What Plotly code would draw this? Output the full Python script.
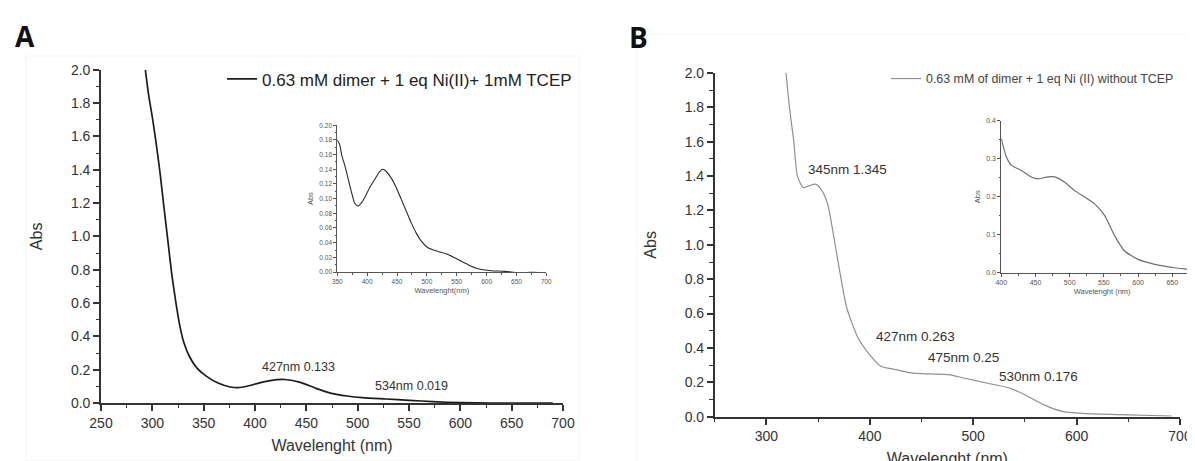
import plotly.graph_objects as go

W, H = 1195, 461

# ---------------- Panel A data (main spectrum) ----------------
a_wl = [293.2, 296.3, 300.1, 303.9, 307.7, 311.4, 315.2, 319.0, 322.8, 326.6, 330.4,
        336.1, 343.7, 353.2, 364.5, 375.9, 383.5, 393.0, 406.3, 421.4, 429.0, 444.2,
        459.4, 474.5, 489.7, 504.9, 527.6, 550.4, 573.2, 599.7, 630.0, 660.0, 690.0]
a_abs = [2.0, 1.852, 1.711, 1.551, 1.371, 1.170, 0.970, 0.770, 0.609, 0.469, 0.369,
         0.279, 0.208, 0.158, 0.118, 0.096, 0.092, 0.102, 0.124, 0.140, 0.141, 0.124,
         0.088, 0.058, 0.042, 0.032, 0.024, 0.016, 0.008, 0.002, 0.0, 0.0, 0.0]

# Panel A inset
ai_wl = [350.0, 353.9, 357.8, 362.3, 367.9, 373.4, 379.0, 384.6, 390.2, 396.9, 404.1,
         412.5, 420.9, 426.5, 432.0, 440.4, 448.8, 457.2, 465.5, 473.9, 482.3, 490.7,
         501.8, 518.6, 535.3, 552.1, 568.8, 585.6, 607.9, 630.2, 652.5, 674.9, 697.2]
ai_abs = [0.180, 0.174, 0.158, 0.146, 0.128, 0.110, 0.094, 0.090, 0.094, 0.103, 0.115,
          0.126, 0.137, 0.140, 0.137, 0.128, 0.115, 0.099, 0.083, 0.067, 0.053, 0.042,
          0.033, 0.028, 0.024, 0.017, 0.010, 0.0045, 0.0018, 0.0009, -0.001, -0.0005, -0.001]

# ---------------- Panel B data (main spectrum) ----------------
b_wl = [319.0, 322.3, 326.4, 330.0, 335.5, 341.0, 347.6, 353.8, 359.3, 364.8, 370.3,
        377.7, 388.6, 399.6, 410.6, 425.0, 440.0, 458.0, 476.6, 491.0, 513.0, 535.0,
        550.0, 568.0, 586.0, 605.0, 641.0, 692.0]
b_abs = [2.0, 1.80, 1.605, 1.40, 1.333, 1.343, 1.353, 1.314, 1.236, 1.061, 0.867,
         0.634, 0.459, 0.362, 0.293, 0.274, 0.255, 0.249, 0.245, 0.225, 0.196, 0.167,
         0.128, 0.070, 0.031, 0.019, 0.012, 0.004]

# Panel B inset
bi_wl = [400.0, 407.3, 414.6, 429.2, 443.9, 453.7, 468.3, 478.1, 492.7, 507.3, 521.9,
         536.5, 551.2, 565.8, 580.4, 599.9, 624.3, 653.5, 682.7, 693.9]
bi_abs = [0.353, 0.305, 0.283, 0.269, 0.252, 0.247, 0.252, 0.252, 0.238, 0.216, 0.199,
          0.181, 0.150, 0.097, 0.057, 0.035, 0.022, 0.013, 0.007, 0.003]

legend_a = "0.63 mM dimer + 1 eq Ni(II)+ 1mM TCEP"
legend_b = "0.63 mM of dimer + 1 eq Ni (II) without TCEP"

# peak labels: (text, x in nm, y in Abs) positions of label centres
labels_a = [("427nm 0.133", 442.4, 0.214), ("534nm 0.019", 552.3, 0.102)]
labels_b = [("345nm 1.345", 378.8, 1.440), ("427nm 0.263", 443.9, 0.468),
            ("475nm 0.25", 490.7, 0.346), ("530nm 0.176", 562.8, 0.235)]

FONT = "Arial, Liberation Sans, sans-serif"


def px(x0, x1):
    return [x0 / W, x1 / W]


def py(top, bottom):
    return [1 - bottom / H, 1 - top / H]


fig = go.Figure()

fig.add_trace(go.Scatter(x=a_wl, y=a_abs, mode="lines", name=legend_a,
                         line=dict(color="#1c1c1c", width=1.7, shape="spline", smoothing=0.6),
                         xaxis="x", yaxis="y", legend="legend"))
fig.add_trace(go.Scatter(x=ai_wl, y=ai_abs, mode="lines", showlegend=False,
                         line=dict(color="#2a2a2a", width=1.1, shape="spline", smoothing=0.6),
                         xaxis="x2", yaxis="y2"))
fig.add_trace(go.Scatter(x=b_wl, y=b_abs, mode="lines", name=legend_b,
                         line=dict(color="#909090", width=1.2, shape="spline", smoothing=0.6),
                         xaxis="x3", yaxis="y3", legend="legend2"))
fig.add_trace(go.Scatter(x=bi_wl, y=bi_abs, mode="lines", showlegend=False,
                         line=dict(color="#6e6e6e", width=1.2, shape="spline", smoothing=0.6),
                         xaxis="x4", yaxis="y4"))

axcol = "#333333"


def main_axis(domain, rng, dtick, minor_dtick, fmt, title, standoff, anchor, tick0=None, size=14):
    d = dict(domain=domain, range=rng, anchor=anchor, showline=True, linecolor=axcol,
             linewidth=1.6, ticks="outside", ticklen=6, tickwidth=1.5, tickcolor=axcol,
             dtick=dtick, showgrid=False, zeroline=False, tickformat=fmt,
             tickfont=dict(size=size, color="#333", family=FONT),
             minor=dict(dtick=minor_dtick, ticks="outside", ticklen=3.5, tickwidth=1.3,
                        tickcolor=axcol, showgrid=False),
             title=dict(text=title, font=dict(size=16, color="#333", family=FONT),
                        standoff=standoff),
             automargin=False, fixedrange=True)
    if tick0 is not None:
        d["tick0"] = tick0
    return d


def inset_axis(domain, rng, dtick, minor_dtick, fmt, title, standoff, anchor, size=6.5):
    return dict(domain=domain, range=rng, anchor=anchor, showline=True, linecolor="#555",
                linewidth=1, ticks="outside", ticklen=3, tickwidth=0.8, tickcolor="#555",
                dtick=dtick, showgrid=False, zeroline=False, tickformat=fmt,
                tickfont=dict(size=size, color="#555", family=FONT),
                minor=dict(dtick=minor_dtick, ticks="outside", ticklen=1.8, tickwidth=0.7,
                           tickcolor="#555", showgrid=False),
                title=dict(text=title, font=dict(size=7.5, color="#555", family=FONT),
                           standoff=standoff),
                automargin=False, fixedrange=True)


fig.update_layout(
    width=W, height=H, margin=dict(l=0, r=0, t=0, b=0),
    paper_bgcolor="white", plot_bgcolor="rgba(0,0,0,0)",
    font=dict(family=FONT, color="#333"),
    xaxis=main_axis(px(93, 555), [250, 700], 50, 25, "d", "Wavelenght (nm)", 10, "y"),
    yaxis=main_axis(py(61.7, 395), [0, 2.0], 0.2, 0.1, ".1f", "Abs", 24, "x"),
    xaxis2=inset_axis(px(329.3, 538.3), [350, 700], 50, 25, "d", "Wavelenght(nm)", 3, "y2"),
    yaxis2=inset_axis(py(117.3, 264), [0, 0.2], 0.02, 0.01, ".2f", "Abs", 4, "x2"),
    xaxis3=main_axis(px(706.7, 1172), [250, 700], 100, 50, "d", "Wavelenght (nm)", 10, "y3",
                     tick0=300),
    yaxis3=main_axis(py(65, 408.7), [0, 2.0], 0.2, 0.1, ".1f", "Abs", 24, "x3"),
    xaxis4=inset_axis(px(993.3, 1195), [400, 694.9], 50, 25, "d", "Wavelenght (nm)", 3, "y4",
                      size=7),
    yaxis4=inset_axis(py(112.7, 264.7), [0, 0.4], 0.1, 0.05, ".1f", "Abs", 4, "x4", size=7),
    legend=dict(x=214 / W, y=1 - 71.4 / H, xanchor="left", yanchor="middle",
                bgcolor="rgba(0,0,0,0)", borderwidth=0,
                font=dict(size=17, color="#222", family=FONT)),
    legend2=dict(x=878 / W, y=1 - 71 / H, xanchor="left", yanchor="middle",
                 bgcolor="rgba(0,0,0,0)", borderwidth=0,
                 font=dict(size=12.4, color="#444", family=FONT)),
    showlegend=True,
)

ann = []
for t, x, y in labels_a:
    ann.append(dict(text=t, x=x, y=y, xref="x", yref="y", showarrow=False,
                    xanchor="center", yanchor="middle",
                    font=dict(size=12.5, color="#333", family=FONT)))
for t, x, y in labels_b:
    ann.append(dict(text=t, x=x, y=y, xref="x3", yref="y3", showarrow=False,
                    xanchor="center", yanchor="middle",
                    font=dict(size=13.5, color="#333", family=FONT)))
ann.append(dict(text="<b>A</b>", x=17 / W, y=1 - 28 / H, xref="paper", yref="paper",
                showarrow=False, xanchor="center", yanchor="middle",
                font=dict(size=28, color="#111", family="Open Sans, Arial, sans-serif")))
ann.append(dict(text="<b>B</b>", x=631 / W, y=1 - 29 / H, xref="paper", yref="paper",
                showarrow=False, xanchor="center", yanchor="middle",
                font=dict(size=28, color="#111", family="Open Sans, Arial, sans-serif")))
fig.update_layout(annotations=ann)

# very faint frames around each panel (edges of the original figure panels)
fig.add_shape(type="rect", xref="paper", yref="paper",
              x0=18 / W, x1=571 / W, y0=1 - 452.5 / H, y1=1 - 48 / H,
              line=dict(color="#f5f5f5", width=1), layer="below")
fig.add_shape(type="rect", xref="paper", yref="paper",
              x0=629 / W, x1=1193 / W, y0=-0.05, y1=1 - 26 / H,
              line=dict(color="#f5f5f5", width=1), layer="below")

fig.write_html("out.html")
